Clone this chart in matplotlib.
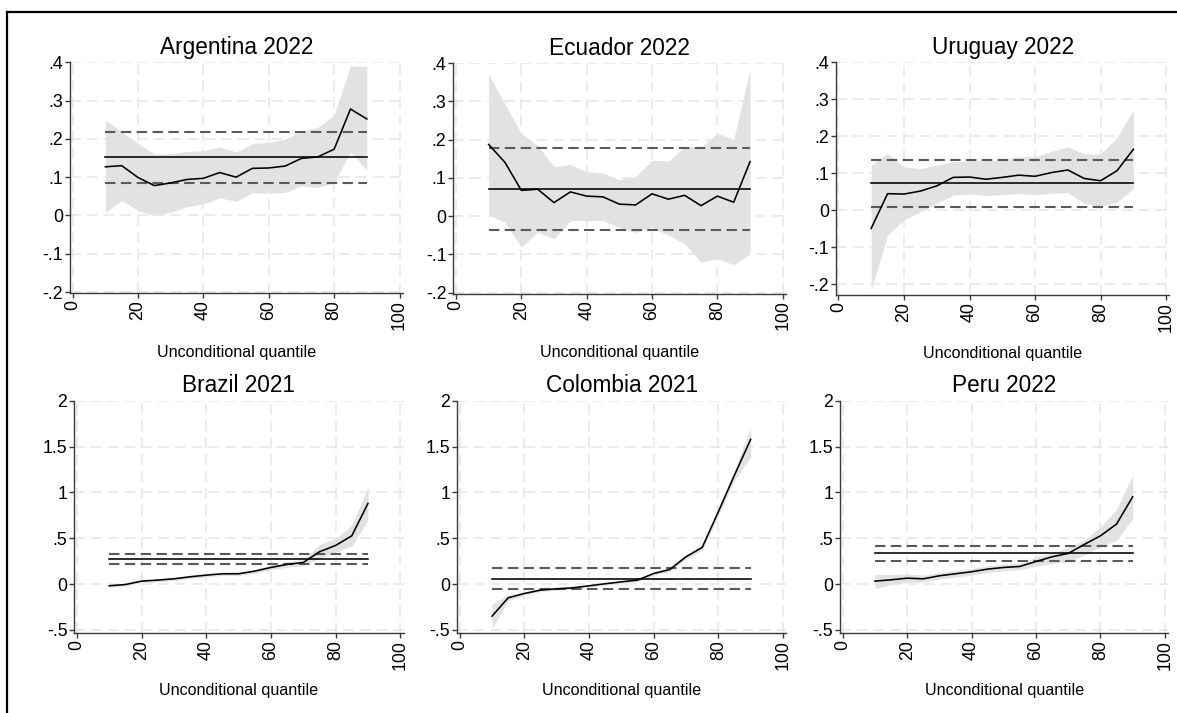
import matplotlib
matplotlib.use('Agg')
import matplotlib.pyplot as plt
import matplotlib as mpl
from matplotlib.lines import Line2D

quantiles = [10, 15, 20, 25, 30, 35, 40, 45, 50, 55, 60, 65, 70, 75, 80, 85, 90]

titles = ['Argentina 2022', 'Ecuador 2022', 'Uruguay 2022',
          'Brazil 2021', 'Colombia 2021', 'Peru 2022']

arg_est = [0.127, 0.130, 0.099, 0.078, 0.085, 0.094, 0.097, 0.112, 0.100,
           0.123, 0.124, 0.129, 0.149, 0.153, 0.173, 0.278, 0.252]
arg_hi = [0.249, 0.219, 0.188, 0.160, 0.161, 0.167, 0.169, 0.179, 0.165,
          0.188, 0.191, 0.199, 0.221, 0.230, 0.262, 0.391, 0.389]
arg_lo = [0.008, 0.040, 0.012, 0.000, 0.009, 0.023, 0.030, 0.046, 0.037,
          0.059, 0.058, 0.060, 0.077, 0.073, 0.085, 0.167, 0.117]
arg_ols = [0.152, 0.085, 0.218]

ecu_est = [0.187, 0.140, 0.067, 0.070, 0.035, 0.063, 0.052, 0.050, 0.031,
           0.029, 0.058, 0.044, 0.054, 0.027, 0.052, 0.036, 0.142]
ecu_hi = [0.370, 0.293, 0.216, 0.184, 0.129, 0.135, 0.116, 0.112, 0.095,
          0.103, 0.146, 0.143, 0.182, 0.180, 0.216, 0.200, 0.383]
ecu_lo = [0.003, -0.017, -0.082, -0.041, -0.060, -0.012, -0.012, -0.012, -0.030,
          -0.043, -0.030, -0.050, -0.073, -0.121, -0.112, -0.127, -0.099]
ecu_ols = [0.070, -0.036, 0.177]

ury_est = [-0.049, 0.045, 0.044, 0.052, 0.066, 0.089, 0.090, 0.084, 0.089,
           0.095, 0.092, 0.102, 0.109, 0.086, 0.080, 0.107, 0.165]
ury_hi = [0.122, 0.154, 0.118, 0.113, 0.122, 0.131, 0.134, 0.134, 0.136,
          0.145, 0.145, 0.159, 0.172, 0.152, 0.152, 0.197, 0.271]
ury_lo = [-0.215, -0.067, -0.026, -0.004, 0.019, 0.041, 0.044, 0.040, 0.042,
          0.046, 0.042, 0.046, 0.048, 0.019, 0.010, 0.023, 0.059]
ury_ols = [0.073, 0.010, 0.135]

bra_est = [-0.018, -0.004, 0.033, 0.044, 0.058, 0.080, 0.098, 0.113, 0.113,
           0.142, 0.182, 0.215, 0.236, 0.353, 0.422, 0.527, 0.880]
bra_hi = [0.000, 0.012, 0.048, 0.060, 0.076, 0.098, 0.116, 0.131, 0.133,
          0.165, 0.208, 0.245, 0.270, 0.430, 0.500, 0.643, 1.062]
bra_lo = [-0.036, -0.020, 0.018, 0.028, 0.040, 0.062, 0.080, 0.095, 0.093,
          0.119, 0.156, 0.185, 0.200, 0.280, 0.350, 0.414, 0.700]
bra_ols = [0.276, 0.225, 0.331]

col_est = [-0.349, -0.149, -0.102, -0.065, -0.051, -0.040, -0.018, 0.004, 0.025,
           0.044, 0.116, 0.160, 0.298, 0.400, 0.789, 1.189, 1.578]
col_hi = [-0.218, -0.120, -0.085, -0.050, -0.038, -0.027, -0.005, 0.017, 0.038,
          0.060, 0.135, 0.182, 0.325, 0.430, 0.835, 1.245, 1.716]
col_lo = [-0.484, -0.180, -0.120, -0.080, -0.064, -0.053, -0.031, -0.009, 0.012,
          0.028, 0.097, 0.138, 0.270, 0.370, 0.743, 1.133, 1.389]
col_ols = [0.058, -0.058, 0.178]

per_est = [0.033, 0.047, 0.065, 0.058, 0.091, 0.113, 0.135, 0.164, 0.182,
           0.193, 0.247, 0.298, 0.335, 0.433, 0.527, 0.655, 0.953]
per_hi = [0.108, 0.105, 0.110, 0.098, 0.128, 0.150, 0.172, 0.200, 0.218,
          0.228, 0.298, 0.342, 0.400, 0.480, 0.625, 0.815, 1.189]
per_lo = [-0.050, -0.005, 0.020, 0.020, 0.055, 0.077, 0.098, 0.128, 0.146,
          0.157, 0.196, 0.225, 0.243, 0.316, 0.407, 0.480, 0.716]
per_ols = [0.335, 0.251, 0.415]

top_yticks = [-0.2, -0.1, 0, 0.1, 0.2, 0.3, 0.4]
top_ylabels = ['-.2', '-.1', '0', '.1', '.2', '.3', '.4']
bot_yticks = [-0.5, 0, 0.5, 1, 1.5, 2]
bot_ylabels = ['-.5', '0', '.5', '1', '1.5', '2']
xticks = [0, 20, 40, 60, 80, 100]

W, H = 1177, 713
XLIM = (-0.8, 101)


def DesignCharts():
    mpl.rc('font', family='Liberation Sans', size=12.8)
    mpl.rc('axes', edgecolor='#3a3a3a', linewidth=1.0)
    mpl.rc('xtick', color='#3a3a3a', labelcolor='black')
    mpl.rc('ytick', color='#3a3a3a', labelcolor='black')


def Panel(fig, x0, sx, ytop_px, ybot_px, ylim, est, hi, lo, ols,
          title, yticks, ylabels, label_px):
    left = x0 + XLIM[0] * sx
    width = (XLIM[1] - XLIM[0]) * sx
    ax = fig.add_axes([left / W, 1 - ybot_px / H, width / W,
                       (ybot_px - ytop_px) / H])
    ax.set_xlim(*XLIM)
    ax.set_ylim(*ylim)

    ax.fill_between(quantiles, lo, hi, color='#e2e2e2', lw=0, zorder=1)
    ax.plot(quantiles, est, color='black', lw=1.15, zorder=4)
    q0, q1 = quantiles[0], quantiles[-1]
    ax.plot([q0, q1], [ols[0], ols[0]], color='black', lw=1.15, zorder=3)
    for v in ols[1:]:
        ax.plot([q0, q1], [v, v], color='#5a5a5a', lw=1.5,
                dashes=(5, 2.6), zorder=3)

    ax.set_xticks(xticks)
    ax.set_xticklabels([str(t) for t in xticks], rotation=90)
    ax.set_yticks(yticks)
    ax.set_yticklabels(ylabels)
    ax.tick_params(axis='both', length=3.5, width=1.0, pad=1.5)
    ax.grid(True, color='#e6e6e6', lw=1.1, dashes=(7, 4), zorder=0)
    ax.set_axisbelow(True)
    for s in ['top', 'right']:
        ax.spines[s].set_visible(False)

    ax.set_title(title, fontsize=16.3, pad=6)
    ax.set_xlabel('Unconditional quantile', fontsize=11.6)
    ax.xaxis.label.set_va('center')
    ax.xaxis.set_label_coords(0.5, -(label_px - ybot_px) / (ybot_px - ytop_px))
    return ax


def Main():
    DesignCharts()
    fig = plt.figure(figsize=(W / 100, H / 100), dpi=100)

    Panel(fig, 72.7, 3.268, 62.3, 293.0, (-0.2026, 0.4),
          arg_est, arg_hi, arg_lo, arg_ols, titles[0],
          top_yticks, top_ylabels, 353)
    Panel(fig, 456.0, 3.267, 63.0, 293.5, (-0.2026, 0.4),
          ecu_est, ecu_hi, ecu_lo, ecu_ols, titles[1],
          top_yticks, top_ylabels, 353)
    Panel(fig, 838.4, 3.278, 62.3, 294.7, (-0.228, 0.4),
          ury_est, ury_hi, ury_lo, ury_ols, titles[2],
          top_yticks, top_ylabels, 353)
    Panel(fig, 77.0, 3.233, 400.7, 633.3, (-0.536, 2.0),
          bra_est, bra_hi, bra_lo, bra_ols, titles[3],
          bot_yticks, bot_ylabels, 690)
    Panel(fig, 459.7, 3.233, 400.7, 633.3, (-0.536, 2.0),
          col_est, col_hi, col_lo, col_ols, titles[4],
          bot_yticks, bot_ylabels, 690)
    Panel(fig, 842.7, 3.222, 400.7, 633.3, (-0.536, 2.0),
          per_est, per_hi, per_lo, per_ols, titles[5],
          bot_yticks, bot_ylabels, 690)

    # outer frame, cut off at the right and bottom edges
    fx, fy = 6.7 / W, 1 - 12.3 / H
    fig.add_artist(Line2D([fx, fx], [0, fy], color='black', lw=1.6))
    fig.add_artist(Line2D([fx, 1], [fy, fy], color='black', lw=1.6))

    fig.savefig('out.png', dpi=100)


if __name__ == '__main__':
    Main()
